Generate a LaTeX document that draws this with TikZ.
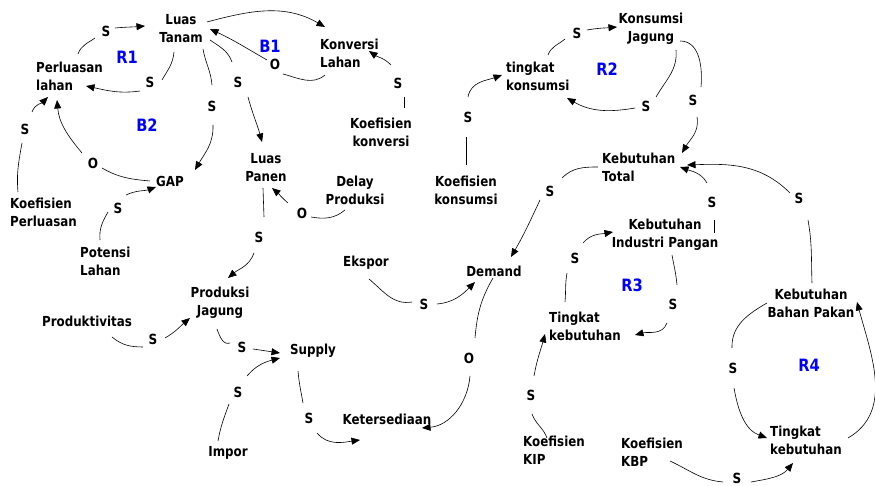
\documentclass[tikz,border=0pt]{standalone}
\usepackage{fontspec}
\setmainfont{DejaVu Sans}[FakeStretch=0.86]
\usetikzlibrary{arrows.meta}
\begin{document}
\begin{tikzpicture}[x=1pt,y=1pt,
  txt/.style={font=\fontsize{13.8}{18}\selectfont\bfseries, inner sep=0pt, align=center},
  txtl/.style={txt, align=left, anchor=west},
  pol/.style={font=\fontsize{14}{18}\selectfont\bfseries, inner sep=1pt},
  loopl/.style={font=\fontsize{17}{20}\selectfont\bfseries, text=blue},
  ln/.style={line width=0.6pt},
  arr/.style={ln, -{Triangle[length=8.5pt,width=7pt]}}]
\useasboundingbox (0,0) rectangle (875,486);
% variables
\node[txt]  (lt)   at (181,457) {Luas\\Tanam};
\node[txtl] (pl)   at (36,410)  {Perluasan\\lahan};
\node[txtl] (kl)   at (320,433) {Konversi\\Lahan};
\node[txt]  (kk)   at (381,354) {Koefisien\\konversi};
\node[txt]  (lp)   at (266,318) {Luas\\Panen};
\node[txt]  (gap)  at (170,305) {GAP};
\node[txtl] (kp)   at (10,274)  {Koefisien\\Perluasan};
\node[txtl] (pot)  at (80,225)  {Potensi\\Lahan};
\node[txt]  (dp)   at (355,296) {Delay\\Produksi};
\node[txt]  (pj)   at (220,183) {Produksi\\Jagung};
\node[txt]  (prod) at (87,165)  {Produktivitas};
\node[txt]  (sup)  at (313,135) {Supply};
\node[txt]  (imp)  at (228,33)  {Impor};
\node[txt]  (ket)  at (387,67)  {Ketersediaan};
\node[txt]  (dem)  at (494,215) {Demand};
\node[txt]  (eks)  at (366,223) {Ekspor};
\node[txtl] (kt)   at (602,319) {Kebutuhan\\Total};
\node[txt]  (kc)   at (466,296) {Koefisien\\konsumsi};
\node[txtl] (tk)   at (506,410) {tingkat\\konsumsi};
\node[txt]  (kj)   at (651,457) {Konsumsi\\Jagung};
\node[txt]  (kip)  at (665,251) {Kebutuhan\\Industri Pangan};
\node[txtl] (tk3)  at (549,160) {Tingkat\\kebutuhan};
\node[txtl] (kkip) at (523,36)  {Koefisien\\KIP};
\node[txtl] (kkbp) at (621,34)  {Koefisien\\KBP};
\node[txtl] (tk4)  at (770,46)  {Tingkat\\kebutuhan};
\node[txt]  (kbp)  at (811,183) {Kebutuhan\\Bahan Pakan};
% loop labels
\node[loopl] (r1) at (127,429) {R1};
\node[loopl] (b1) at (270,440) {B1};
\node[loopl] (b2) at (147,361) {B2};
\node[loopl] (r2) at (607,417) {R2};
\node[loopl] (r3) at (632,201) {R3};
\node[loopl] (r4) at (809,121) {R4};
% polarities
\node[pol] (s1)  at (106,455) {S};
\node[pol] (s2)  at (150,404) {S};
\node[pol] (o1)  at (275,422) {O};
\node[pol] (s3)  at (398,403) {S};
\node[pol] (s4)  at (212,380) {S};
\node[pol] (s5)  at (238,404) {S};
\node[pol] (o2)  at (93,323)  {O};
\node[pol] (s6)  at (25,357)  {S};
\node[pol] (s7)  at (118,278) {S};
\node[pol] (o3)  at (302,273) {O};
\node[pol] (s8)  at (259,249) {S};
\node[pol] (s9)  at (153,147) {S};
\node[pol] (s10) at (242,139) {S};
\node[pol] (s11) at (238,94)  {S};
\node[pol] (s12) at (309,68)  {S};
\node[pol] (o4)  at (469,128) {O};
\node[pol] (s13) at (424,182) {S};
\node[pol] (s14) at (550,295) {S};
\node[pol] (s15) at (468,369) {S};
\node[pol] (s16) at (577,453) {S};
\node[pol] (s17) at (646,380) {S};
\node[pol] (s18) at (693,386) {S};
\node[pol] (s19) at (712,284) {S};
\node[pol] (s20) at (799,288) {S};
\node[pol] (s21) at (575,228) {S};
\node[pol] (s22) at (673,182) {S};
\node[pol] (s23) at (531,91)  {S};
\node[pol] (s24) at (737,8)   {S};
\node[pol] (s25) at (733,118) {S};
% connectors
\draw[ln]  ([shift={(42,22)}]pl.west) to[out=70,in=215] ([shift={(-11,-7)}]s1.center);
\draw[arr] ([shift={(9,3)}]s1.center) to[out=5,in=185] ([shift={(-36,3)}]lt.center);
\draw[ln]  ([shift={(-7,-23)}]lt.center) to[out=-95,in=60] ([shift={(12,2)}]s2.center);
\draw[arr] ([shift={(-10,-9)}]s2.center) to[out=188,in=-12] ([shift={(50,-10)}]pl.west);
\draw[arr] ([shift={(26,7)}]lt.center) to[out=15,in=150] ([shift={(5,26)}]kl.west);
\draw[ln]  ([shift={(5,-22)}]kl.west) to[out=-140,in=-15] ([shift={(8,-10)}]o1.center);
\draw[arr] ([shift={(-8,4)}]o1.center) to[out=150,in=-25] ([shift={(29,0)}]lt.center);
\draw[ln]  ([shift={(23,24)}]kk.center) -- ([shift={(6,-14)}]s3.center);
\draw[arr] ([shift={(-7,18)}]s3.center) to[out=135,in=-35] ([shift={(49,2)}]kl.west);
\draw[ln]  ([shift={(22,-20)}]lt.center) to[out=-80,in=95] ([shift={(0,21)}]s4.center);
\draw[arr] ([shift={(1,-19)}]s4.center) to[out=-88,in=60] ([shift={(25,11)}]gap.center);
\draw[ln]  ([shift={(29,-11)}]lt.center) to[out=-35,in=110] ([shift={(-6,20)}]s5.center);
\draw[arr] ([shift={(10,-15)}]s5.center) to[out=-75,in=105] ([shift={(-4,26)}]lp.center);
\draw[ln]  ([shift={(-20,0)}]gap.center) to[out=175,in=-30] ([shift={(9,-5)}]o2.center);
\draw[arr] ([shift={(-11,10)}]o2.center) to[out=130,in=-85] ([shift={(21,-24)}]pl.west);
\draw[ln]  ([shift={(8,20)}]kp.west) to[out=95,in=-100] ([shift={(-3,-14)}]s6.center);
\draw[arr] ([shift={(7,17)}]s6.center) to[out=70,in=-135] ([shift={(12,-21)}]pl.west);
\draw[ln]  ([shift={(20,21)}]pot.west) to[out=95,in=-120] ([shift={(-10,-4)}]s7.center);
\draw[arr] ([shift={(8,13)}]s7.center) to[out=25,in=200] ([shift={(-14,-6)}]gap.center);
\draw[ln]  ([shift={(-10,-20)}]dp.center) to[out=-140,in=-10] ([shift={(9,-4)}]o3.center);
\draw[arr] ([shift={(-14,10)}]o3.center) to[out=140,in=-40] ([shift={(6,-20)}]lp.center);
\draw[ln]  ([shift={(-3,-20)}]lp.center) to[out=-88,in=92] ([shift={(5,20)}]s8.center);
\draw[arr] ([shift={(-5,-16)}]s8.center) to[out=-110,in=40] ([shift={(8,25)}]pj.center);
\draw[ln]  ([shift={(25,-16)}]prod.center) to[out=-40,in=180] ([shift={(-10,-8)}]s9.center);
\draw[arr] ([shift={(12,1)}]s9.center) to[out=30,in=220] ([shift={(-30,-15)}]pj.center);
\draw[ln]  ([shift={(-3,-26)}]pj.center) to[out=-70,in=200] ([shift={(-12,4)}]s10.center);
\draw[arr] ([shift={(11,-2)}]s10.center) -- ([shift={(-33,-2)}]sup.center);
\draw[ln]  ([shift={(-10,12)}]imp.center) to[out=80,in=-110] ([shift={(-9,-12)}]s11.center);
\draw[arr] ([shift={(9,16)}]s11.center) to[out=50,in=195] ([shift={(-33,-7)}]sup.center);
\draw[ln]  ([shift={(-15,-20)}]sup.center) to[out=-85,in=100] ([shift={(-6,15)}]s12.center);
\draw[arr] ([shift={(8,-15)}]s12.center) to[out=-50,in=188] ([shift={(-27,-21)}]ket.center);
\draw[ln]  ([shift={(-1,-7)}]dem.center) to[out=-120,in=85] ([shift={(6,20)}]o4.center);
\draw[arr] ([shift={(1,-18)}]o4.center) to[out=-95,in=5] ([shift={(35,-9)}]ket.center);
\draw[ln]  ([shift={(3,-16)}]eks.center) to[out=-40,in=190] ([shift={(-12,2)}]s13.center);
\draw[arr] ([shift={(13,0)}]s13.center) to[out=5,in=225] ([shift={(-19,-11)}]dem.center);
\draw[ln]  ([shift={(-4,0)}]kt.west) to[out=180,in=45] ([shift={(12,13)}]s14.center);
\draw[arr] ([shift={(-10,-9)}]s14.center) to[out=-115,in=60] ([shift={(17,14)}]dem.center);
\draw[ln]  ([shift={(0,25)}]kc.center) -- ([shift={(-2,-20)}]s15.center);
\draw[arr] ([shift={(0,20)}]s15.center) to[out=80,in=200] ([shift={(-4,1)}]tk.west);
\draw[ln]  ([shift={(42,21)}]tk.west) to[out=70,in=220] ([shift={(-12,-6)}]s16.center);
\draw[arr] ([shift={(10,3)}]s16.center) to[out=10,in=185] ([shift={(-34,2)}]kj.center);
\draw[ln]  ([shift={(25,-21)}]kj.center) to[out=-85,in=60] ([shift={(10,9)}]s17.center);
\draw[arr] ([shift={(-11,-2)}]s17.center) to[out=190,in=-30] ([shift={(61,-22)}]tk.west);
\draw[ln]  ([shift={(29,-12)}]kj.center) to[out=0,in=85] ([shift={(8,13)}]s18.center);
\draw[arr] ([shift={(4,-17)}]s18.center) to[out=-80,in=60] ([shift={(80,14)}]kt.west);
\draw[ln]  ([shift={(49,2)}]kip.center) -- ([shift={(2,-18)}]s19.center);
\draw[arr] ([shift={(-5,19)}]s19.center) to[out=120,in=-20] ([shift={(78,0)}]kt.west);
\draw[ln]  ([shift={(1,20)}]kbp.center) to[out=92,in=-80] ([shift={(9,-22)}]s20.center);
\draw[arr] ([shift={(-9,5)}]s20.center) to[out=135,in=2] ([shift={(85,2)}]kt.west);
\draw[ln]  ([shift={(16,24)}]tk3.west) to[out=85,in=-100] ([shift={(-8,-15)}]s21.center);
\draw[arr] ([shift={(8,15)}]s21.center) to[out=50,in=190] ([shift={(-52,3)}]kip.center);
\draw[ln]  ([shift={(7,-20)}]kip.center) to[out=-80,in=95] ([shift={(4,19)}]s22.center);
\draw[arr] ([shift={(-6,-19)}]s22.center) to[out=-110,in=15] ([shift={(86,-9)}]tk3.west);
\draw[ln]  ([shift={(24,12)}]kkip.west) to[out=110,in=-70] ([shift={(1,-19)}]s23.center);
\draw[arr] ([shift={(3,19)}]s23.center) to[out=80,in=-105] ([shift={(-4,-8)}]tk3.west);
\draw[ln]  ([shift={(49,-9)}]kkbp.west) to[out=-25,in=175] ([shift={(-14,-4)}]s24.center);
\draw[arr] ([shift={(14,-4)}]s24.center) to[out=10,in=-130] ([shift={(23,-23)}]tk4.west);
\draw[ln]  ([shift={(-44,0)}]kbp.center) to[out=-150,in=92] ([shift={(-1,20)}]s25.center);
\draw[arr] ([shift={(1,-20)}]s25.center) to[out=-80,in=160] ([shift={(-3,2)}]tk4.west);
\draw[arr] ([shift={(78,2)}]tk4.west) to[out=30,in=-75] ([shift={(46,1)}]kbp.center);
\end{tikzpicture}
\end{document}
